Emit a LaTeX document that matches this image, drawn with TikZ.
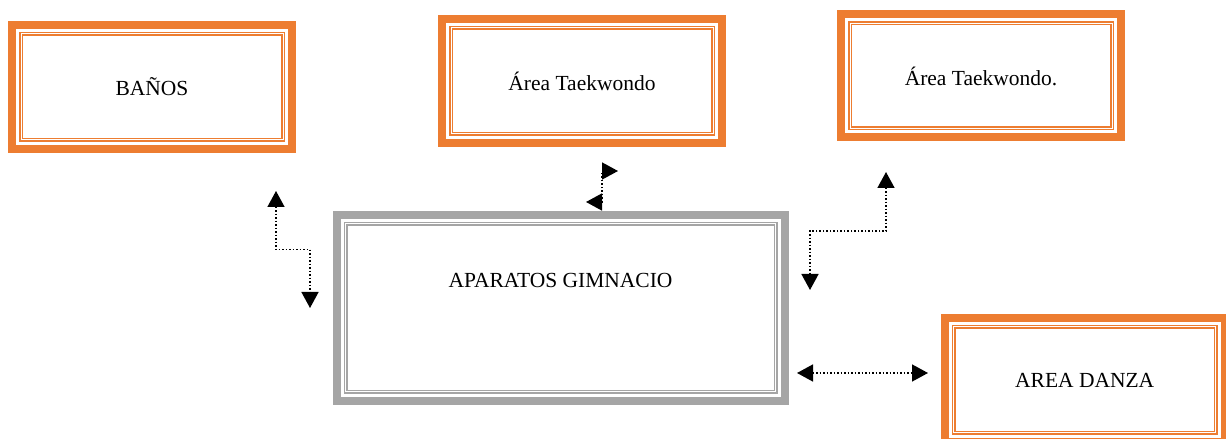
\documentclass[tikz,border=0pt]{standalone}
\usepackage{fontspec}
\setmainfont{Liberation Serif}
\usepackage{xcolor}
\usetikzlibrary{arrows.meta,calc}
\definecolor{roomorange}{HTML}{ED7D31}
\definecolor{roomgray}{HTML}{A5A5A5}

\begin{document}
\begin{tikzpicture}[
    x=1pt, y=1pt,
    room/.style={rectangle, draw=#1, line width=8pt, inner sep=0pt,
      minimum width=280pt, minimum height=124pt,
      font=\fontsize{21.5}{25}\selectfont,
      path picture={\draw[#1, line width=1.5pt, double=white, double distance=1pt]
        ([shift={(9pt,9pt)}]path picture bounding box.south west) rectangle
        ([shift={(-9pt,-9pt)}]path picture bounding box.north east);}},
    room/.default=roomorange,
    link/.style={dotted, line width=1.5pt,
      {Triangle[length=16pt,width=17pt]}-{Triangle[length=16pt,width=17pt]}},
  ]
  \clip (0,0) rectangle (1226,439);

  % Nodes
  \node[room] (banos) at (152,352) {BAÑOS};
  \node[room] (taekwondo1) at (582,358) {Área Taekwondo};
  \node[room, minimum height=123pt] (taekwondo2) at (981,363) {Área Taekwondo.};
  \node[room=roomgray, minimum width=448pt, minimum height=186pt, text depth=56pt]
    (gimnasio) at (560.5,131) {APARATOS GIMNACIO};
  \node[room, minimum height=124pt] (danza) at (1084.7,59) {AREA DANZA};

  % Connector ends
  \coordinate (banosUp) at (276,248);
  \coordinate (banosDown) at (310,131);
  \coordinate (tkdLeft) at (586,237);
  \coordinate (tkdRight) at (618,268);
  \coordinate (tkdUp) at (886,267);
  \coordinate (tkdDown) at (810,149);
  \coordinate (danzaLeft) at (797,66);
  \coordinate (danzaRight) at (928,66);

  % Arrows
  \draw[link] (banosUp) |- ($(banosUp)!0.5!(banosDown)$) -| (banosDown);
  \draw[link] (tkdLeft) -| ($(tkdLeft)!0.5!(tkdRight)$) |- (tkdRight);
  \draw[link] (tkdUp) |- ($(tkdUp)!0.5!(tkdDown)$) -| (tkdDown);
  \draw[link] (danzaLeft) -- (danzaRight);
\end{tikzpicture}
\end{document}
